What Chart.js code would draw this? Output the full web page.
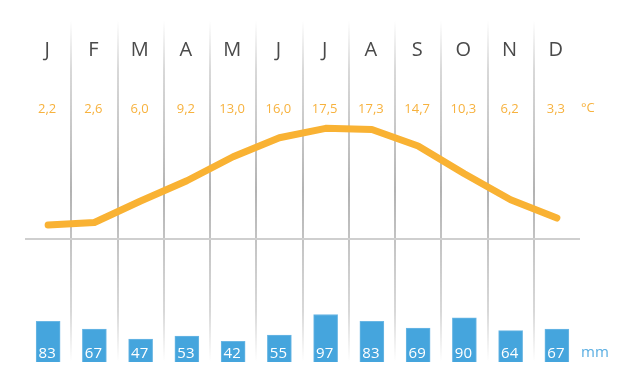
<!DOCTYPE html>
<html>
<head>
<meta charset="utf-8">
<script src="https://cdn.jsdelivr.net/npm/chart.js@4"></script>
<style>
  html, body { margin: 0; padding: 0; background: #fff; }
  #wrap { width: 640px; height: 390px; }
</style>
</head>
<body>
<div id="wrap"><canvas id="chart" width="640" height="390"></canvas></div>
<script>
const mesi = ['J', 'F', 'M', 'A', 'M', 'J', 'J', 'A', 'S', 'O', 'N', 'D'];
const temperature = [2.2, 2.6, 6.0, 9.2, 13.0, 16.0, 17.5, 17.3, 14.7, 10.3, 6.2, 3.3];
const precipitazioni = [83, 67, 47, 53, 42, 55, 97, 83, 69, 90, 64, 67];

const FONT = '"Open Sans", "Noto Sans", sans-serif';

// linee verticali sfumate, linea dello zero e testi
const decorazioni = {
    id: 'decorazioni',
    beforeDatasetsDraw(chart) {
        const c = chart.ctx;
        const x = chart.scales.x;
        const yT = chart.scales.yT;
        const area = chart.chartArea;
        const passo = x.getPixelForValue(1) - x.getPixelForValue(0);

        c.save();
        const grad = c.createLinearGradient(0, area.top, 0, area.bottom);
        grad.addColorStop(0, 'rgba(190,190,190,0)');
        grad.addColorStop(0.15, 'rgba(190,190,190,0.6)');
        grad.addColorStop(0.5, 'rgba(170,170,170,0.9)');
        grad.addColorStop(0.85, 'rgba(190,190,190,0.6)');
        grad.addColorStop(1, 'rgba(190,190,190,0)');
        c.strokeStyle = grad;
        c.lineWidth = 2;
        for (let i = 0; i < mesi.length - 1; i++) {
            const px = Math.round(x.getPixelForValue(i) + passo / 2);
            c.beginPath();
            c.moveTo(px, area.top);
            c.lineTo(px, area.bottom);
            c.stroke();
        }

        // linea 0 °C
        const y0 = yT.getPixelForValue(0);
        c.strokeStyle = '#cfcfcf';
        c.lineWidth = 2;
        c.beginPath();
        c.moveTo(area.left, y0);
        c.lineTo(area.right, y0);
        c.stroke();
        c.restore();
    },
    afterDatasetsDraw(chart) {
        const c = chart.ctx;
        const x = chart.scales.x;
        const area = chart.chartArea;
        c.save();
        c.textAlign = 'center';
        c.textBaseline = 'middle';

        mesi.forEach((m, i) => {
            const px = x.getPixelForValue(i);
            c.fillStyle = '#4a4a4a';
            c.font = '20px ' + FONT;
            c.fillText(m, px - 1, 50);

            c.fillStyle = '#f7b23e';
            c.font = '13px ' + FONT;
            c.fillText(temperature[i].toFixed(1).replace('.', ','), px - 1, 109);

            c.fillStyle = '#ffffff';
            c.font = '15px ' + FONT;
            c.fillText(String(precipitazioni[i]), px - 1, 354);
        });

        c.textAlign = 'left';
        c.fillStyle = '#f7b23e';
        c.font = '13px ' + FONT;
        c.fillText('°C', area.right + 1, 108);

        c.fillStyle = '#5aaee2';
        c.font = '15px ' + FONT;
        c.fillText('mm', area.right + 1, 353);
        c.restore();
    }
};

new Chart(document.getElementById('chart').getContext('2d'), {
    data: {
        labels: mesi,
        datasets: [
            {
                type: 'line',
                data: temperature,
                yAxisID: 'yT',
                borderColor: '#f9b233',
                borderWidth: 7,
                borderCapStyle: 'round',
                borderJoinStyle: 'round',
                tension: 0,
                pointRadius: 0,
                fill: false,
                order: 0
            },
            {
                type: 'bar',
                data: precipitazioni,
                yAxisID: 'yP',
                backgroundColor: '#45a5dd',
                borderColor: '#6bb7e4',
                borderWidth: 1,
                barThickness: 24,
                order: 1
            }
        ]
    },
    options: {
        responsive: false,
        animation: false,
        layout: { padding: { left: 25, right: 60, top: 20, bottom: 28 } },
        plugins: {
            legend: { display: false },
            tooltip: { enabled: false }
        },
        scales: {
            x: { display: false, offset: true },
            yT: { display: false, min: -19.48, max: 34.64 },
            yP: { display: false, min: 0, max: 698 }
        }
    },
    plugins: [decorazioni]
});
</script>
</body>
</html>
